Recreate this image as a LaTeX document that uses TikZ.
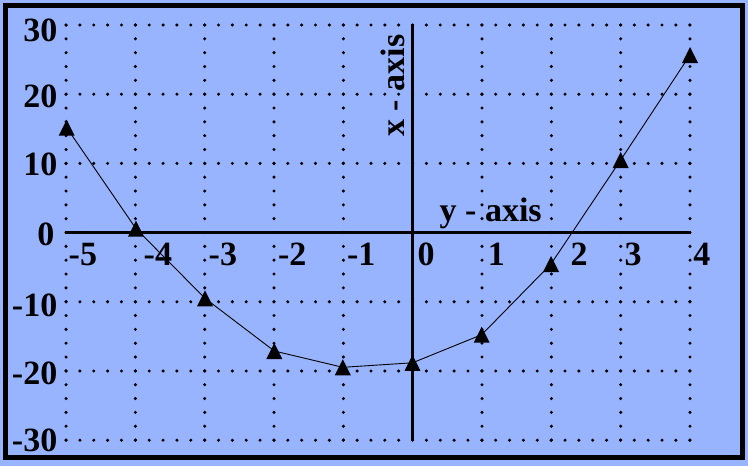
\documentclass[tikz,border=0pt]{standalone}
\usepackage{fontspec}
\setmainfont{Liberation Serif}
\definecolor{bgblue}{RGB}{153,180,255}
\begin{document}
\begin{tikzpicture}[x=1pt,y=-1pt,
  frame/.style={draw=black,line width=4.6pt},
  hdots/.style={line width=3.4pt,line cap=round,dash pattern=on 0pt off 13.86pt},
  vdots/.style={line width=3.4pt,line cap=round,dash pattern=on 0pt off 13.835pt},
  axisline/.style={line width=3.3pt},
  curve/.style={line width=0.9pt},
  lbl/.style={inner sep=0pt,font=\fontsize{34}{40}\selectfont\bfseries},
  tri/.pic={\fill[black] (0,-8) -- (-8,8) -- (8,8) -- cycle;}]
\useasboundingbox (0,0) rectangle (748,466);
\fill[bgblue] (0,0) rectangle (748,466);
\draw[frame] (5.4,5.6) rectangle (742.5,457.5);
% dotted grid
\foreach \yy in {25.0,94.2,163.4,301.8,371.0,440.2}
  \draw[hdots] (66.05,\yy) -- (690,\yy);
\foreach \xx in {66.05,135.4,204.7,274.0,343.4,482.0,551.4,620.7,690.0}
  \draw[vdots] (\xx,25) -- (\xx,440.2);
% axes
\coordinate (axl) at (65,232.6);
\coordinate (axr) at (691,232.6);
\coordinate (ayt) at (412.7,24);
\coordinate (ayb) at (412.7,440.8);
\draw[axisline] (axl) -- (axr);
\draw[axisline] (ayt) -- (ayb);
% y labels
\node[lbl,anchor=base east] (ly30) at (57.5,41.7) {30};
\node[lbl,anchor=base east] (ly20) at (57.5,107.3) {20};
\node[lbl,anchor=base east] (ly10) at (57.5,175) {10};
\node[lbl,anchor=base east] (ly0) at (54.5,245.5) {0};
\node[lbl,anchor=base east] (lym10) at (57.5,316.7) {-10};
\node[lbl,anchor=base east] (lym20) at (57.5,384) {-20};
\node[lbl,anchor=base east] (lym30) at (57.5,451.7) {-30};
% x labels
\node[lbl,anchor=base west] (lxm5) at (68.5,265) {-5};
\node[lbl,anchor=base west] (lxm4) at (143.5,265) {-4};
\node[lbl,anchor=base west] (lxm3) at (208.5,265) {-3};
\node[lbl,anchor=base west] (lxm2) at (277.8,265) {-2};
\node[lbl,anchor=base west] (lxm1) at (346.8,265) {-1};
\node[lbl,anchor=base west] (lx0) at (417.5,265) {0};
\node[lbl,anchor=base west] (lx1) at (487.7,265) {1};
\node[lbl,anchor=base west] (lx2) at (570.5,265) {2};
\node[lbl,anchor=base west] (lx3) at (624.5,265) {3};
\node[lbl,anchor=base west] (lx4) at (693.2,265) {4};
% axis titles
\node[lbl,anchor=base west] (ytitle) at (439.5,221.7) {y - axis};
\node[lbl,rotate=90,anchor=base west] (xtitle) at (404.5,136.7) {x - axis};
% data points
\coordinate (p1) at (66.7,127.7);
\coordinate (p2) at (136,228.7);
\coordinate (p3) at (205,298.3);
\coordinate (p4) at (274.3,351);
\coordinate (p5) at (342.8,367.3);
\coordinate (p6) at (412.5,362.8);
\coordinate (p7) at (481.7,334.7);
\coordinate (p8) at (551,264);
\coordinate (p9) at (620.7,160);
\coordinate (p10) at (690,55);
\draw[curve] (p1) -- (p2) -- (p3) -- (p4) -- (p5) -- (p6) -- (p7) -- (p8) -- (p9) -- (p10);
\foreach \p in {p1,p2,p3,p4,p5,p6,p7,p8,p9,p10}
  \pic at (\p) {tri};
\end{tikzpicture}
\end{document}
